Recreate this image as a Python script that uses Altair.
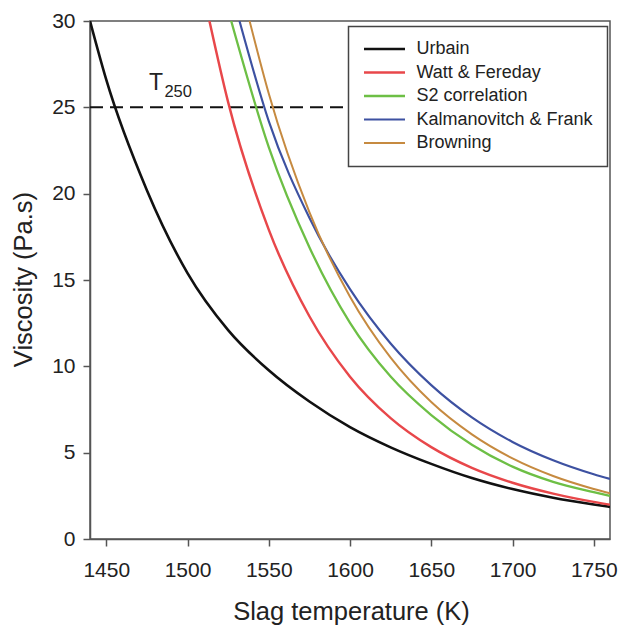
import altair as alt
import pandas as pd

# ---- data ----
models = ["Urbain", "Watt & Fereday", "S2 correlation", "Kalmanovitch & Frank", "Browning"]
colors = ["#111111", "#e8474a", "#6dbf45", "#3d51a1", "#c68a40"]
widths = [2.6, 2.0, 2.0, 2.0, 2.0]

urbain_t = [1440, 1450, 1475, 1500, 1525, 1550, 1575, 1600, 1625, 1650, 1675, 1700, 1725, 1750, 1760]
urbain_v = [30, 26.6, 20.2, 15.4, 12.1, 9.77, 7.96, 6.48, 5.31, 4.35, 3.53, 2.89, 2.39, 2.0, 1.86]

watt_t = [1513.5, 1525, 1550, 1575, 1600, 1625, 1650, 1675, 1700, 1725, 1750, 1760]
watt_v = [30, 25.3, 17.92, 12.9, 9.4, 7.0, 5.32, 4.12, 3.26, 2.63, 2.15, 1.99]

s2_t = [1526.9, 1550, 1575, 1600, 1625, 1650, 1675, 1700, 1725, 1750, 1760]
s2_v = [30, 22.7, 16.9, 12.52, 9.41, 7.18, 5.46, 4.19, 3.31, 2.71, 2.49]

kf_t = [1532.0, 1550, 1575, 1600, 1625, 1650, 1675, 1700, 1725, 1750, 1760]
kf_v = [30, 24.2, 18.6, 14.47, 11.32, 8.91, 7.04, 5.62, 4.56, 3.75, 3.48]

br_t = [1538.2, 1550, 1575, 1600, 1625, 1650, 1675, 1700, 1725, 1750, 1760]
br_v = [30, 25.8, 18.93, 14.03, 10.5, 7.93, 6.06, 4.67, 3.65, 2.9, 2.65]

ref_t = [1440, 1598]
ref_v = [25, 25]

x_ticks = [1450, 1500, 1550, 1600, 1650, 1700, 1750]
y_ticks = [0, 5, 10, 15, 20, 25, 30]

series = [(models[0], urbain_t, urbain_v), (models[1], watt_t, watt_v),
          (models[2], s2_t, s2_v), (models[3], kf_t, kf_v), (models[4], br_t, br_v)]
rows = []
for name, ts, vs in series:
    for t, v in zip(ts, vs):
        rows.append({"model": name, "T": t, "V": v})
df = pd.DataFrame(rows)
ref_df = pd.DataFrame({"T": ref_t, "V": ref_v})
lab_df = pd.DataFrame({"T": [1476.3], "V": [26.03], "txt": ["T"]})
sub_df = pd.DataFrame({"T": [1485.8], "V": [25.62], "txt": ["250"]})

FONT = "Liberation Sans"

xscale = alt.Scale(domain=[1440, 1760], nice=False, zero=False)
yscale = alt.Scale(domain=[0, 30], nice=False)

xaxis = alt.Axis(values=x_ticks, format="d", title="Slag temperature (K)", labelPadding=13,
                 titleX=261, titleY=80, titleBaseline="alphabetic", titleAlign="center")
yaxis = alt.Axis(values=y_ticks, format="d", title="Viscosity (Pa.s)", labelPadding=8,
                 titleX=-58.5, titleY=258, titleAngle=-90, titleBaseline="alphabetic",
                 titleAlign="center")

ref = alt.Chart(ref_df).mark_line(color="#111111", strokeWidth=2, strokeDash=[13, 7]).encode(
    x=alt.X("T:Q", scale=xscale, axis=xaxis),
    y=alt.Y("V:Q", scale=yscale, axis=yaxis),
)

lines = alt.Chart(df).mark_line(clip=True, interpolate="monotone").encode(
    x=alt.X("T:Q", scale=xscale, axis=xaxis),
    y=alt.Y("V:Q", scale=yscale, axis=yaxis),
    color=alt.Color("model:N", scale=alt.Scale(domain=models, range=colors),
                    sort=models,
                    legend=alt.Legend(title=None, orient="none", legendX=258.5, legendY=5.5,
                                      symbolType="stroke", symbolSize=1681,
                                      symbolStrokeWidth=2, clipHeight=17, rowPadding=4.5,
                                      labelFontSize=18, labelFont=FONT, labelOffset=10,
                                      labelLimit=400,
                                      padding=14, strokeColor="#444", fillColor="white",
                                      labelColor="#222")),
    strokeWidth=alt.StrokeWidth("model:N", scale=alt.Scale(domain=models, range=widths),
                                legend=None),
    order=alt.Order("T:Q"),
)

t_main = alt.Chart(lab_df).mark_text(font=FONT, fontSize=23, align="left",
                                     baseline="alphabetic", color="#222").encode(
    x="T:Q", y="V:Q", text="txt:N")
t_sub = alt.Chart(sub_df).mark_text(font=FONT, fontSize=16.5, align="left",
                                    baseline="alphabetic", color="#222").encode(
    x="T:Q", y="V:Q", text="txt:N")

chart = alt.layer(ref, lines, t_main, t_sub).properties(
    width=520, height=518,
    padding={"left": 90, "top": 21, "right": 9, "bottom": 86},
    autosize=alt.AutoSizeParams(type="none"),
).configure_view(
    stroke="#555", strokeWidth=1.5
).configure_axis(
    grid=False, labelFont=FONT, labelFontSize=21, labelColor="#222",
    titleFont=FONT, titleFontSize=25.5, titleFontWeight="normal", titleColor="#222",
    tickColor="#555", tickSize=7, tickWidth=1.5, domainColor="#555", domainWidth=1.5,
).configure_legend(
    strokeWidth=1.5
)

chart.save("out.html", embed_options={"renderer": "svg", "actions": False})
